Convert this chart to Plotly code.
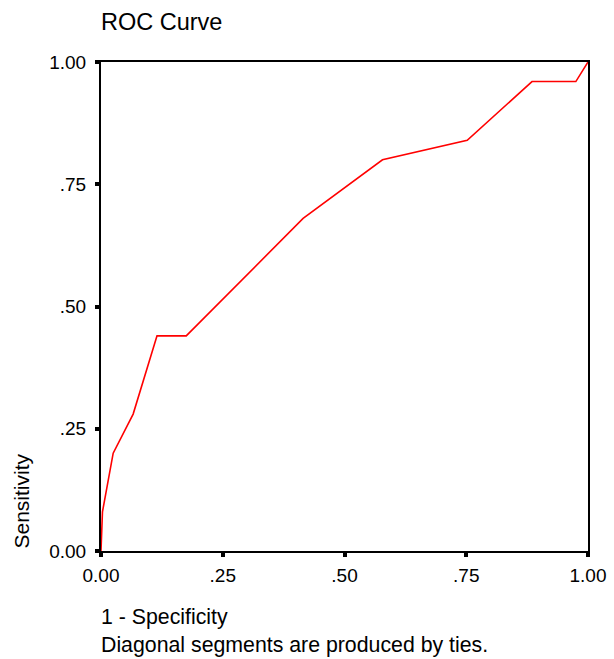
import plotly.graph_objects as go

fpr = [0.0, 0.003, 0.025, 0.066, 0.115, 0.175, 0.415, 0.578, 0.752, 0.885, 0.975, 1.0]
tpr = [0.0, 0.08, 0.20, 0.28, 0.44, 0.44, 0.68, 0.80, 0.84, 0.96, 0.96, 1.0]
tick_vals = [0, 0.25, 0.5, 0.75, 1.0]
tick_text = ["0.00", ".25", ".50", ".75", "1.00"]

FONT = "Liberation Sans, Arial, Helvetica, sans-serif"

W, H = 614, 659
pl, pr, pt, pb = 101, 26, 62, 108
pw, ph = W - pl - pr, H - pt - pb


def px(x):
    return (x - pl) / pw


def py(y):
    return (H - pb - y) / ph


fig = go.Figure()
fig.add_trace(go.Scatter(x=fpr, y=tpr, mode="lines",
                         line=dict(color="#ff0000", width=1.6),
                         hoverinfo="skip", showlegend=False))

axis_common = dict(range=[0, 1], tickvals=tick_vals, ticktext=tick_text,
                   showgrid=False, zeroline=False, showline=True, mirror=True,
                   linecolor="black", linewidth=2, ticks="outside",
                   ticklen=4, tickwidth=4, tickcolor="black",
                   tickfont=dict(family=FONT, size=19, color="black"))

fig.update_xaxes(**axis_common, ticklabelstandoff=2)
fig.update_yaxes(**axis_common, ticklabelstandoff=5)

fig.update_layout(
    width=W, height=H,
    margin=dict(l=pl, r=pr, t=pt, b=pb, autoexpand=False),
    paper_bgcolor="white", plot_bgcolor="white",
    font=dict(family=FONT, color="black"),
)

fig.add_annotation(text="ROC Curve", x=px(99), y=py(22), xref="paper", yref="paper",
                   showarrow=False, xanchor="left", yanchor="middle",
                   font=dict(size=23.5, family=FONT, color="black"))
fig.add_annotation(text="Sensitivity", x=px(21), y=py(551), xref="paper", yref="paper",
                   showarrow=False, textangle=-90, xanchor="center", yanchor="bottom",
                   font=dict(size=21, family=FONT, color="black"))
fig.add_annotation(text="1 - Specificity", x=px(99), y=py(617), xref="paper", yref="paper",
                   showarrow=False, xanchor="left", yanchor="middle",
                   font=dict(size=21.3, family=FONT, color="black"))
fig.add_annotation(text="Diagonal segments are produced by ties.", x=px(99), y=py(659),
                   xref="paper", yref="paper",
                   showarrow=False, xanchor="left", yanchor="bottom",
                   font=dict(size=21.3, family=FONT, color="black"))

fig.write_html("out.html", config={"displayModeBar": False},
               post_script="document.body.style.margin='0px';")
